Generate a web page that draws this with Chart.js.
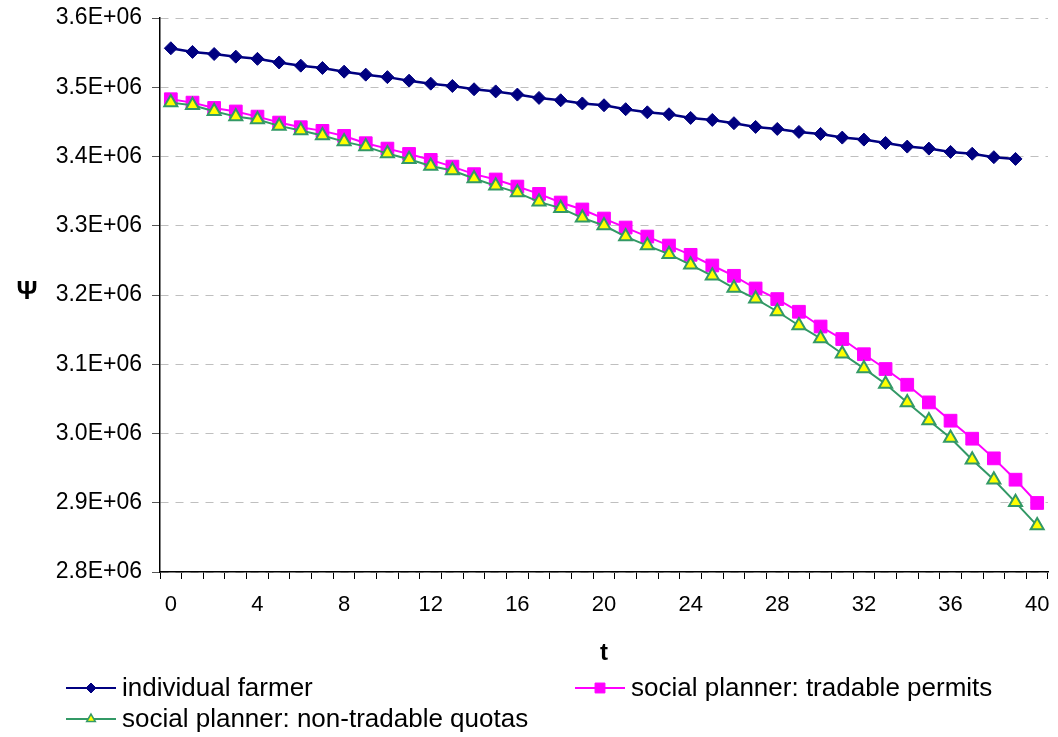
<!DOCTYPE html>
<html>
<head>
<meta charset="utf-8">
<script src="https://cdn.jsdelivr.net/npm/chart.js@4"></script>
<style>
html,body{margin:0;padding:0;background:#fff;}
#wrap{width:1058px;height:737px;}
</style>
</head>
<body>
<div id="wrap"><canvas id="c" width="1058" height="737"></canvas></div>
<script>
const categories = ['0','1','2','3','4','5','6','7','8','9','10','11','12','13','14','15','16','17','18','19','20','21','22','23','24','25','26','27','28','29','30','31','32','33','34','35','36','37','38','39','40'];
const xTickLabels = ['0','4','8','12','16','20','24','28','32','36','40'];
const yTickLabels = ['2.8E+06','2.9E+06','3.0E+06','3.1E+06','3.2E+06','3.3E+06','3.4E+06','3.5E+06','3.6E+06'];
const seriesNames = ['individual farmer','social planner: tradable permits','social planner: non-tradable quotas'];
const individualFarmer = [3556300,3551000,3548000,3544200,3541000,3535800,3531200,3527800,3522500,3518200,3514600,3509500,3505200,3501800,3497100,3494000,3489400,3484600,3481200,3476600,3474000,3468300,3463800,3461000,3455700,3452800,3448100,3442700,3439800,3435500,3432600,3427300,3424400,3419600,3414300,3411400,3406600,3404000,3399000,3396500,null];
const tradablePermits = [3482700,3477800,3470100,3465000,3457600,3449000,3442300,3437000,3429700,3419200,3411400,3403700,3395100,3385400,3374500,3366800,3356600,3346000,3333500,3323500,3310400,3297400,3284400,3271400,3258000,3242600,3227700,3209400,3194100,3175800,3154500,3136400,3114500,3093100,3070400,3044900,3018500,2992500,2964100,2933300,2899700];
const nonTradableQuotas = [3477800,3474000,3465400,3457600,3453300,3444200,3437400,3430200,3421500,3414300,3404200,3396100,3386400,3379700,3368200,3357600,3347900,3334500,3325400,3311400,3300300,3284400,3271400,3259000,3243600,3227700,3210000,3194500,3176200,3156000,3137200,3115200,3094000,3071400,3044900,3018900,2993500,2962200,2933300,2900600,2867000];

const FONT = "'Liberation Sans', Arial, sans-serif";
const styles = [
  {color:'#000080', fill:'#000080', border:'#000080', pointStyle:'rectRot', radius:6.5, lw:2.5},
  {color:'#FF00FF', fill:'#FF00FF', border:'#FF00FF', pointStyle:'rect', radius:9, lw:2},
  {color:'#339966', fill:'#FFFF00', border:'#339966', pointStyle:'triangle', radius:7.5, lw:2}
];
const seriesData = [individualFarmer, tradablePermits, nonTradableQuotas];
const orders = [0, 2, 1];

function drawMarker(ctx, style, x, y, r){
  ctx.save();
  ctx.fillStyle = style.fill;
  ctx.strokeStyle = style.border;
  ctx.lineWidth = style.pointStyle === 'triangle' ? 1.5 : 1;
  ctx.beginPath();
  if (style.pointStyle === 'rectRot'){
    ctx.moveTo(x, y - r); ctx.lineTo(x + r, y); ctx.lineTo(x, y + r); ctx.lineTo(x - r, y); ctx.closePath();
  } else if (style.pointStyle === 'rect'){
    const h = r * Math.SQRT1_2;
    ctx.rect(x - h, y - h, 2*h, 2*h);
  } else {
    const a = Math.PI*2/3;
    ctx.moveTo(x, y - r);
    ctx.lineTo(x + Math.sin(a)*r, y - Math.cos(a)*r);
    ctx.lineTo(x + Math.sin(2*a)*r, y - Math.cos(2*a)*r);
    ctx.closePath();
  }
  ctx.fill(); ctx.stroke();
  ctx.restore();
}

const extras = {
  id:'extras',
  afterDraw(chart){
    const ctx = chart.ctx;
    ctx.save();
    // y axis title (upright)
    ctx.fillStyle = '#000';
    ctx.font = "bold 26px " + FONT;
    ctx.textAlign = 'center';
    ctx.textBaseline = 'middle';
    ctx.fillText('Ψ', 27, 292);
    // legend
    const pos = [[66, 688], [575, 688], [66, 719]];
    ctx.font = "26px " + FONT;
    ctx.textAlign = 'left';
    chart.data.datasets.forEach((ds, i) => {
      const [x, y] = pos[i];
      const st = styles[i];
      ctx.strokeStyle = st.color;
      ctx.lineWidth = 2;
      ctx.beginPath(); ctx.moveTo(x, y); ctx.lineTo(x + 50, y); ctx.stroke();
      drawMarker(ctx, st, x + 25, y, st.pointStyle==='rect' ? 7 : 5);
      ctx.fillStyle = '#000';
      ctx.fillText(ds.label, x + 56, y + 1);
    });
    ctx.restore();
  }
};

new Chart(document.getElementById('c'), {
  type:'line',
  data:{
    labels: categories,
    datasets: seriesData.map((d, i) => ({
      label: seriesNames[i],
      data: d,
      borderColor: styles[i].color,
      backgroundColor: styles[i].fill,
      borderWidth: styles[i].lw,
      pointStyle: styles[i].pointStyle,
      pointRadius: styles[i].radius,
      pointBackgroundColor: styles[i].fill,
      pointBorderColor: styles[i].border,
      pointBorderWidth: i === 2 ? 2 : 1,
      pointHoverRadius: styles[i].radius,
      tension: 0,
      fill: false,
      spanGaps: false,
      order: orders[i]
    }))
  },
  options:{
    responsive:false,
    animation:false,
    events:[],
    layout:{padding:{left:0, right:8, top:18, bottom:69}},
    plugins:{legend:{display:false}, tooltip:{enabled:false}},
    scales:{
      x:{
        type:'category',
        offset:true,
        grid:{offset:true, drawOnChartArea:false, drawTicks:true, tickLength:7, color:'#000', tickColor:'#000', lineWidth:1},
        border:{display:true, color:'#000', width:1.5},
        ticks:{
          autoSkip:false, maxRotation:0, minRotation:0, padding:13,
          color:'#000', font:{family:FONT, size:22},
          callback:function(v, idx){ return (idx % 4 === 0) ? xTickLabels[idx/4] : ''; }
        },
        title:{display:true, text:'t', color:'#000', font:{family:FONT, size:24, weight:'bold'}, padding:{top:0, bottom:0}},
        afterFit:function(s){ s.height = 96; s.paddingLeft = 0; s.paddingRight = 0; }
      },
      y:{
        min:2800000, max:3600000,
        grid:{color:'#BFBFBF', lineWidth:1, drawTicks:true, tickLength:8, tickColor:'#555', tickWidth:1},
        border:{display:true, color:'#000', width:1.5, dash:[8,7]},
        ticks:{
          stepSize:100000, padding:10, color:'#000', font:{family:FONT, size:23},
          callback:function(v, idx){ return yTickLabels[idx]; }
        },
        afterFit:function(s){ s.width = 160; s.paddingTop = 0; s.paddingBottom = 0; }
      }
    }
  },
  plugins:[extras]
});
</script>
</body>
</html>
